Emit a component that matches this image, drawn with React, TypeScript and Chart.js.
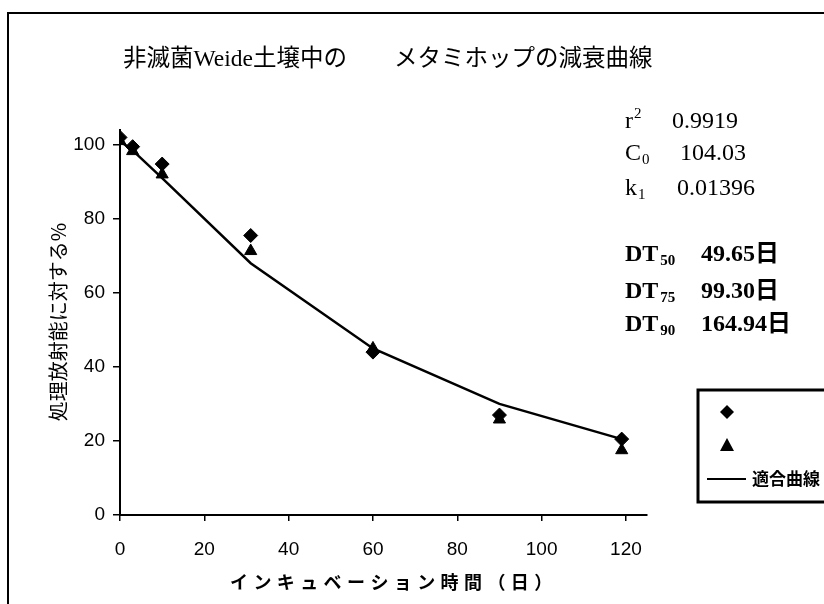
import React, { useEffect, useRef } from "react";
import { Chart, registerables } from "chart.js";

Chart.register(...registerables);

// Incubation days and measured residues (% of applied radioactivity)
const days = [0, 3, 10, 31, 60, 90, 119];
const replicateA = [102, 99.5, 94.8, 75.5, 44, 27, 20.5];
const replicateB = [101, 98.3, 92, 71.3, 45, 25.8, 17.5];
const fittedCurve = [101, 98.5, 91, 68, 45, 30, 20.5];

const xTicks = [0, 20, 40, 60, 80, 100, 120];
const yTicks = [0, 20, 40, 60, 80, 100];

const titleText = "非滅菌Weide土壌中の　　メタミホップの減衰曲線";
const xTitle = "インキュベーション時間（日）";
const yTitle = "処理放射能に対する%";
const legendLineLabel = "適合曲線";

const fitStats = [
  { base: "r", mark: "2", sup: true, value: "0.9919", gap: 47 },
  { base: "C", mark: "0", sup: false, value: "104.03", gap: 55 },
  { base: "k", mark: "1", sup: false, value: "0.01396", gap: 52 },
];
const halfLives = [
  { mark: "50", value: "49.65日" },
  { mark: "75", value: "99.30日" },
  { mark: "90", value: "164.94日" },
];

const SERIF = '"Liberation Serif", "Noto Sans CJK JP", serif';
const JP = '"Noto Sans CJK JP", sans-serif';
const TITLE_FONT = '"Liberation Serif", "Noto Sans CJK JP", serif';
const TICK_FONT = '"Liberation Sans Narrow", "Liberation Sans", sans-serif';

const decorations = {
  id: "decorations",
  afterDraw(chart: any) {
    const ctx = chart.ctx as CanvasRenderingContext2D;
    ctx.save();
    ctx.fillStyle = "#000";
    ctx.strokeStyle = "#000";

    // outer frame
    ctx.lineWidth = 2;
    ctx.beginPath();
    ctx.moveTo(8, 604);
    ctx.lineTo(8, 13);
    ctx.lineTo(824, 13);
    ctx.stroke();

    // title
    ctx.font = `23.5px ${TITLE_FONT}`;
    ctx.textAlign = "left";
    ctx.textBaseline = "middle";
    ctx.fillText(titleText, 123, 60);

    // y-axis title
    ctx.save();
    ctx.translate(58, 322);
    ctx.rotate(-Math.PI / 2);
    ctx.font = `20px ${JP}`;
    ctx.textAlign = "center";
    ctx.fillText(yTitle, 0, 0);
    ctx.restore();

    // x-axis title
    ctx.save();
    ctx.font = `bold 18px ${JP}`;
    (ctx as any).letterSpacing = "5.4px";
    ctx.textAlign = "left";
    ctx.fillText(xTitle, 230, 582);
    ctx.restore();

    // fit statistics
    ctx.textAlign = "left";
    ctx.textBaseline = "alphabetic";
    const statRows = [128, 160, 195];
    fitStats.forEach((s, i) => {
      const y = statRows[i];
      ctx.font = `24px ${SERIF}`;
      ctx.fillText(s.base, 625, y);
      const w = ctx.measureText(s.base).width;
      ctx.font = `15px ${SERIF}`;
      ctx.fillText(s.mark, 625 + w + 1, s.sup ? y - 10 : y + 4);
      ctx.font = `24px ${SERIF}`;
      ctx.fillText(s.value, 625 + s.gap, y);
    });
    const dtRows = [261, 298, 331];
    halfLives.forEach((d, i) => {
      const y = dtRows[i];
      ctx.font = `bold 24px ${SERIF}`;
      ctx.fillText("DT", 625, y);
      const w = ctx.measureText("DT").width;
      ctx.font = `bold 15px ${SERIF}`;
      ctx.fillText(d.mark, 625 + w + 2, y + 4);
      ctx.font = `bold 24px ${SERIF}`;
      ctx.fillText(d.value, 701, y);
    });

    // legend box
    ctx.lineWidth = 3;
    ctx.strokeRect(698, 390, 140, 112);
    // diamond
    ctx.beginPath();
    ctx.moveTo(727, 405);
    ctx.lineTo(734, 412);
    ctx.lineTo(727, 419);
    ctx.lineTo(720, 412);
    ctx.closePath();
    ctx.fill();
    // triangle
    ctx.beginPath();
    ctx.moveTo(727, 438);
    ctx.lineTo(734, 451);
    ctx.lineTo(720, 451);
    ctx.closePath();
    ctx.fill();
    // line sample
    ctx.lineWidth = 2;
    ctx.beginPath();
    ctx.moveTo(707, 479);
    ctx.lineTo(746, 479);
    ctx.stroke();
    ctx.font = `bold 17px ${JP}`;
    ctx.textBaseline = "middle";
    ctx.fillText(legendLineLabel, 752, 479);

    ctx.restore();
  },
};

export default function App() {
  const canvasRef = useRef<HTMLCanvasElement | null>(null);

  useEffect(() => {
    const canvas = canvasRef.current;
    if (!canvas) return;
    const pts = (ys: number[]) => days.map((d, i) => ({ x: d, y: ys[i] }));
    const keepTicks = (list: number[]) => (scale: any) => {
      scale.ticks = list.map((v) => ({ value: v }));
    };
    const chart = new Chart(canvas, {
      type: "scatter",
      data: {
        datasets: [
          {
            label: "適合曲線",
            data: pts(fittedCurve),
            showLine: true,
            borderColor: "#000",
            borderWidth: 2.5,
            pointRadius: 0,
            tension: 0,
            order: 3,
          },
          {
            label: "A",
            data: pts(replicateA),
            pointStyle: "rectRot",
            pointRadius: 7,
            backgroundColor: "#000",
            borderColor: "#000",
            showLine: false,
            order: 1,
          },
          {
            label: "B",
            data: pts(replicateB),
            pointStyle: "triangle",
            pointRadius: 7,
            backgroundColor: "#000",
            borderColor: "#000",
            showLine: false,
            order: 2,
          },
        ],
      },
      options: {
        responsive: false,
        animation: false,
        devicePixelRatio: 1,
        layout: { padding: { top: 130, right: 177, left: 0, bottom: 0 } },
        plugins: { legend: { display: false }, tooltip: { enabled: false } },
        scales: {
          x: {
            type: "linear",
            min: 0,
            max: 125,
            afterBuildTicks: keepTicks(xTicks),
            afterFit: (s: any) => {
              s.height = 89;
            },
            border: { color: "#000", width: 2 },
            grid: {
              drawOnChartArea: false,
              drawTicks: true,
              tickLength: 6,
              color: "#000",
              lineWidth: 1.5,
            },
            ticks: {
              color: "#000",
              padding: 17,
              maxRotation: 0,
              font: { family: TICK_FONT, size: 19 },
            },
          },
          y: {
            min: 0,
            max: 104,
            afterBuildTicks: keepTicks(yTicks),
            afterFit: (s: any) => {
              s.width = 120;
            },
            border: { color: "#000", width: 2 },
            grid: {
              drawOnChartArea: false,
              drawTicks: true,
              tickLength: 7,
              color: "#000",
              lineWidth: 1.5,
            },
            ticks: {
              color: "#000",
              padding: 8,
              font: { family: TICK_FONT, size: 19 },
            },
          },
        },
      },
      plugins: [decorations],
    });
    return () => chart.destroy();
  }, []);

  return (
    <div style={{ position: "fixed", left: 0, top: 0, width: 824, height: 604, background: "#fff" }}>
      <canvas ref={canvasRef} width={824} height={604} />
    </div>
  );
}
